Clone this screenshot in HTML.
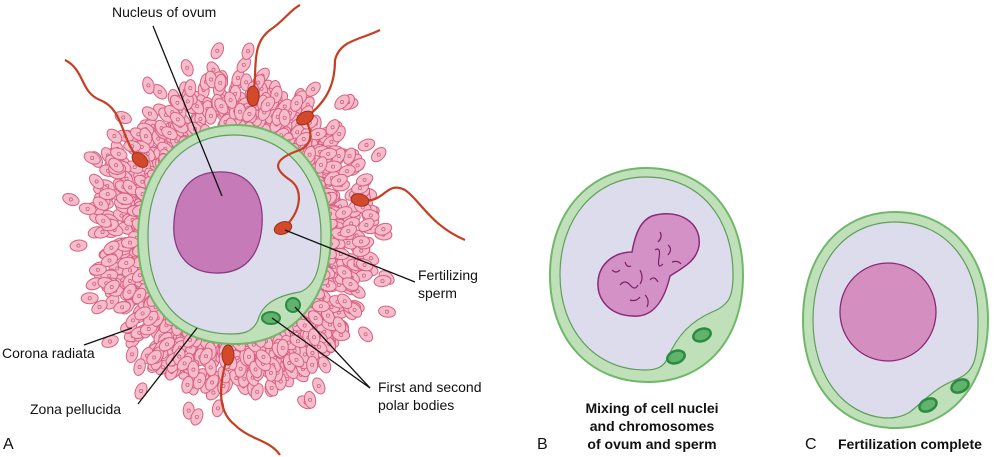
<!DOCTYPE html>
<html><head><meta charset="utf-8"><style>
html,body{margin:0;padding:0;background:#fff;}
svg{display:block;font-family:"Liberation Sans",sans-serif;}
</style></head><body>
<svg id="s" width="998" height="457" viewBox="0 0 998 457" xmlns="http://www.w3.org/2000/svg">
<g id="corona"></g>
<!-- egg A -->
<path d="M234,125 C290,124 332,170 331,236 C330,300 292,345 232,344 C172,343 137,300 138,236 C139,170 178,126 234,125Z" fill="#bfe0b8" stroke="#6fb86a" stroke-width="2"/>
<path d="M232,135 C285,134 321,175 321,236 C321,262 318,285 300,292 C275,296 262,305 258,320 C252,334 240,334 230,334 C178,333 148,298 148,236 C148,175 182,136 232,135Z" fill="#dcdcec" stroke="#5e9e5a" stroke-width="1.2"/>
<path d="M217,172 C250,170 264,195 262,225 C260,255 245,274 215,273 C185,272 172,250 174,222 C176,192 190,173 217,172Z" fill="#c67bb8" stroke="#8a3a80" stroke-width="1.3"/>
<ellipse cx="271" cy="318" rx="9" ry="6" fill="#5fb36a" stroke="#2e8a43" stroke-width="2"/>
<ellipse cx="293" cy="305" rx="7" ry="7" fill="#5fb36a" stroke="#2e8a43" stroke-width="2"/>
<!-- sperm -->
<g fill="none" stroke="#c63f25" stroke-width="2.2">
<path d="M140,160 C120,140 125,110 100,100 C80,92 85,70 65,60"/>
<path d="M253,96 C258,70 250,45 270,30 C285,20 290,10 300,5"/>
<path d="M305,118 C330,100 335,80 335,60 C340,40 360,40 380,30"/>
<path d="M360,200 C385,205 385,180 405,190 C420,200 430,225 465,240"/>
<path d="M283,228 C300,215 305,190 290,180 C275,170 270,160 300,150 C320,140 305,120 305,118"/>
<path d="M228,355 C220,380 215,410 235,425 C250,440 270,440 280,455"/>
</g>
<g fill="#d24a2a" stroke="#a02f1a" stroke-width="1">
<ellipse cx="140" cy="160" rx="9" ry="6" transform="rotate(40 140 160)"/>
<ellipse cx="253" cy="96" rx="6" ry="10"/>
<ellipse cx="305" cy="118" rx="9" ry="6" transform="rotate(-30 305 118)"/>
<ellipse cx="360" cy="200" rx="9" ry="6" transform="rotate(15 360 200)"/>
<ellipse cx="283" cy="228" rx="9" ry="6" transform="rotate(-20 283 228)"/>
<ellipse cx="228" cy="355" rx="6" ry="10"/>
</g>
<!-- leader lines -->
<g stroke="#111" stroke-width="1.3">
<line x1="153" y1="26" x2="222" y2="196"/>
<line x1="285" y1="230" x2="415" y2="282"/>
<line x1="84" y1="345" x2="132" y2="328"/>
<line x1="138" y1="404" x2="197" y2="328"/>
<line x1="370" y1="388" x2="272" y2="318"/>
<line x1="370" y1="388" x2="295" y2="307"/>
</g>
<g font-size="14" fill="#111">
<text x="112" y="17">Nucleus of ovum</text>
<text x="418" y="280">Fertilizing</text>
<text x="418" y="298">sperm</text>
<text x="2" y="358">Corona radiata</text>
<text x="30" y="414">Zona pellucida</text>
<text x="378" y="392">First and second</text>
<text x="378" y="410">polar bodies</text>
<text x="3" y="449" font-size="16">A</text>
<text x="537" y="449" font-size="16">B</text>
<text x="805" y="449" font-size="16">C</text>
</g>
<!-- B -->
<path d="M646,168 C705,168 743,212 743,275 C743,340 705,382 648,382 C590,382 550,340 550,275 C550,212 590,168 646,168Z" fill="#bfe0b8" stroke="#6fb86a" stroke-width="2"/>
<path d="M646,177 C700,177 733,218 733,275 C733,295 730,305 712,312 C690,322 678,335 668,357 C664,368 655,370 645,370 C595,370 560,330 560,275 C560,218 595,177 646,177Z" fill="#dcdcec" stroke="#5e9e5a" stroke-width="1.2"/>
<path d="M652,216 C678,208 702,222 699,246 C696,262 682,268 670,276 C664,302 652,318 632,316 C610,315 597,300 598,282 C599,263 615,252 632,252 C635,235 640,221 652,216Z" fill="#d491c6" stroke="#8a2a78" stroke-width="1.5"/>
<g fill="none" stroke="#7a2068" stroke-width="1.2">
<path d="M620,285 q5,-6 10,0 t8,0"/><path d="M640,270 q4,8 0,14"/><path d="M655,250 q6,-4 4,8 t4,6"/>
<path d="M645,295 q5,5 2,12"/><path d="M668,245 q5,4 0,10"/><path d="M630,300 q6,2 10,-3"/><path d="M672,262 q6,-2 9,2"/>
<path d="M612,270 q4,4 8,0"/><path d="M650,280 q4,-5 8,2"/><path d="M660,232 q3,5 -2,10"/><path d="M625,262 q2,6 6,4"/>
</g>
<ellipse cx="676" cy="357" rx="9" ry="6" fill="#5fb36a" stroke="#2e8a43" stroke-width="2.5" transform="rotate(-20 676 357)"/>
<ellipse cx="702" cy="335" rx="9" ry="6" fill="#5fb36a" stroke="#2e8a43" stroke-width="2.5" transform="rotate(-20 702 335)"/>
<g font-size="14" font-weight="bold" fill="#111" text-anchor="middle">
<text x="652" y="413">Mixing of cell nuclei</text>
<text x="652" y="431">and chromosomes</text>
<text x="652" y="449">of ovum and sperm</text>
</g>
<!-- C -->
<path d="M895,212 C950,212 988,255 988,320 C988,385 950,428 895,428 C840,428 803,385 803,320 C803,255 840,212 895,212Z" fill="#bfe0b8" stroke="#6fb86a" stroke-width="2"/>
<path d="M895,222 C945,222 978,262 978,318 C978,360 975,372 955,380 C935,388 925,400 910,412 C900,418 892,418 885,418 C845,415 813,378 813,320 C813,262 845,222 895,222Z" fill="#dcdcec" stroke="#5e9e5a" stroke-width="1.2"/>
<ellipse cx="888" cy="312" rx="48" ry="49" fill="#d48ec0" stroke="#8a2a78" stroke-width="1.3"/>
<ellipse cx="928" cy="405" rx="9" ry="6" fill="#5fb36a" stroke="#2e8a43" stroke-width="2.5" transform="rotate(-25 928 405)"/>
<ellipse cx="960" cy="386" rx="9" ry="6" fill="#5fb36a" stroke="#2e8a43" stroke-width="2.5" transform="rotate(-25 960 386)"/>
<text x="838" y="449" font-size="14" font-weight="bold" fill="#111">Fertilization complete</text>
</svg>
<script>
(function(){
var g=document.getElementById('corona'),seed=7;
function r(){seed=(seed*9301+49297)%233280;return seed/233280;}
var h='';
for(var i=0;i<950;i++){
 var a=r()*Math.PI*2, d=0.98+Math.pow(r(),1.4)*0.48;
 if(r()<0.04){d=1.5+r()*0.25;}
 var x=234+Math.cos(a)*96*d, y=236+Math.sin(a)*109*d;
 var rot=a*180/Math.PI+90+(r()-0.5)*70;
 h+='<ellipse cx="'+x.toFixed(1)+'" cy="'+y.toFixed(1)+'" rx="5.5" ry="8.5" transform="rotate('+rot.toFixed(0)+' '+x.toFixed(1)+' '+y.toFixed(1)+')" fill="#f5bccb" stroke="#d9607f" stroke-width="1"/>';
 h+='<circle cx="'+x.toFixed(1)+'" cy="'+y.toFixed(1)+'" r="1.6" fill="none" stroke="#d05577" stroke-width="0.7"/>';
}
g.innerHTML=h;
})();
</script>
</body></html>
